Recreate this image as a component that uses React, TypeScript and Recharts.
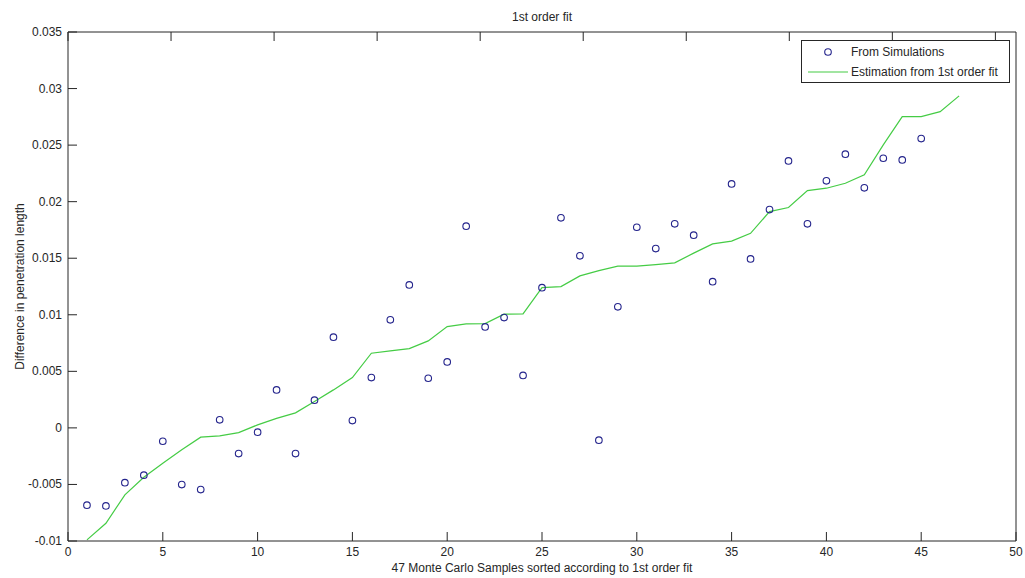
import { ComposedChart, Line, Scatter, XAxis, YAxis, Legend, Label } from 'recharts';

// sample number (sorted by the 1st order fit)
const samples = [
  1, 2, 3, 4, 5, 6, 7, 8, 9, 10, 11, 12, 13, 14, 15, 16, 17, 18, 19, 20, 21, 22, 23, 24,
  25, 26, 27, 28, 29, 30, 31, 32, 33, 34, 35, 36, 37, 38, 39, 40, 41, 42, 43, 44, 45, 46, 47,
];

// difference in penetration length from the simulations (samples 1..45)
const simulated = [
  -0.00683, -0.0069, -0.00484, -0.00418, -0.00118, -0.00501, -0.00545, 0.00071, -0.00227,
  -0.00038, 0.00336, -0.00227, 0.00245, 0.00802, 0.00065, 0.00445, 0.00955, 0.01264,
  0.00439, 0.00583, 0.01783, 0.00893, 0.00975, 0.00464, 0.0124, 0.01857, 0.01521, -0.00109,
  0.0107, 0.01774, 0.01585, 0.01804, 0.01704, 0.01293, 0.02157, 0.01494, 0.0193, 0.0236,
  0.01804, 0.02184, 0.0242, 0.02122, 0.02384, 0.02369, 0.02558,
];

// estimation from the 1st order fit (samples 1..47)
const fitted = [
  -0.0099, -0.00843, -0.00592, -0.00436, -0.00312, -0.00194, -0.00082, -0.00071, -0.00042,
  0.00027, 0.00084, 0.00133, 0.00233, 0.00336, 0.00445, 0.0066, 0.00681, 0.00701, 0.00769,
  0.00896, 0.00919, 0.00922, 0.01005, 0.01008, 0.0124, 0.01249, 0.01344, 0.01391, 0.0143,
  0.0143, 0.01444, 0.01459, 0.01545, 0.01627, 0.01651, 0.0172, 0.01912, 0.01948, 0.02098,
  0.02119, 0.02163, 0.02237, 0.02502, 0.02752, 0.02752, 0.02796, 0.02935,
];

const xTicks = [0, 5, 10, 15, 20, 25, 30, 35, 40, 45, 50];
const yTicks = [-0.01, -0.005, 0, 0.005, 0.01, 0.015, 0.02, 0.025, 0.03, 0.035];

const simRows = simulated.map((v, i) => ({ x: samples[i], sim: v }));
const fitRows = fitted.map((v, i) => ({ x: samples[i], fit: v }));

const INK = '#262626';
const BLUE = '#24248c';
const GREEN = '#45cc45';
const TICK = 9;
const FONT = 12;

// matlab-style ticks: marks point into the axes box
function BottomTick({ x, y, payload }: any) {
  return (
    <g>
      <line x1={x} y1={y} x2={x} y2={y - TICK} stroke={INK} />
      <text x={x} y={y + 15} textAnchor="middle" fill={INK} fontSize={FONT}>
        {payload.value}
      </text>
    </g>
  );
}

function TopTick({ x, y }: any) {
  return <line x1={x} y1={y} x2={x} y2={y + TICK} stroke={INK} />;
}

function LeftTick({ x, y, payload }: any) {
  return (
    <g>
      <line x1={x} y1={y} x2={x + TICK} y2={y} stroke={INK} />
      <text x={x - 6} y={y + 4} textAnchor="end" fill={INK} fontSize={FONT}>
        {String(Number(payload.value.toFixed(3)))}
      </text>
    </g>
  );
}

function RightTick({ x, y }: any) {
  return <line x1={x} y1={y} x2={x - TICK} y2={y} stroke={INK} />;
}

function OpenCircle({ cx, cy }: any) {
  return <circle cx={cx} cy={cy} r={3.3} fill="none" stroke={BLUE} strokeWidth={1.1} />;
}

function FitLegend() {
  const row = { display: 'flex', alignItems: 'center', height: 20 } as const;
  return (
    <div
      style={{
        border: `1px solid ${INK}`,
        background: '#fff',
        boxSizing: 'border-box',
        width: 209,
        height: 43,
        padding: '1px 0',
        fontSize: FONT,
        color: INK,
      }}
    >
      <div style={row}>
        <svg width={49} height={20}>
          <circle cx={26} cy={10} r={3.3} fill="none" stroke={BLUE} strokeWidth={1.1} />
        </svg>
        <span>From Simulations</span>
      </div>
      <div style={row}>
        <svg width={49} height={20}>
          <line x1={6} y1={10} x2={46} y2={10} stroke={GREEN} strokeWidth={1.2} />
        </svg>
        <span>Estimation from 1st order fit</span>
      </div>
    </div>
  );
}

export default function App() {
  return (
    <div
      style={{
        position: 'absolute',
        left: 0,
        top: 0,
        width: 1025,
        height: 578,
        background: '#fff',
        fontFamily: '"Liberation Sans", Arial, sans-serif',
      }}
    >
      <ComposedChart width={1025} height={578} data={fitRows} margin={{ top: 31, right: 8, bottom: 0, left: 0 }}>
        <XAxis
          dataKey="x"
          type="number"
          domain={[0, 50]}
          ticks={xTicks}
          interval={0}
          height={37}
          tickSize={0}
          tickMargin={0}
          tickLine={false}
          tick={<BottomTick />}
          axisLine={{ stroke: INK }}
        >
          <Label
            value="47 Monte Carlo Samples sorted according to 1st order fit"
            position="insideBottom"
            offset={6}
            fill={INK}
            fontSize={FONT}
          />
        </XAxis>
        {/* top and right axes close the box */}
        <XAxis
          xAxisId="top"
          orientation="top"
          type="number"
          domain={[0, 50]}
          ticks={xTicks}
          interval={0}
          height={1}
          tickSize={0}
          tickMargin={0}
          tickLine={false}
          tick={<TopTick />}
          axisLine={{ stroke: INK }}
        >
          <Label value="1st order fit" position="top" offset={10} fill={INK} fontSize={FONT} />
        </XAxis>
        <YAxis
          type="number"
          domain={[-0.01, 0.035]}
          ticks={yTicks}
          interval={0}
          width={68}
          tickSize={0}
          tickMargin={0}
          tickLine={false}
          tick={<LeftTick />}
          axisLine={{ stroke: INK }}
        >
          <Label
            value="Difference in penetration length"
            angle={-90}
            position="insideLeft"
            offset={20}
            fill={INK}
            fontSize={FONT}
            style={{ textAnchor: 'middle' }}
          />
        </YAxis>
        <YAxis
          yAxisId="right"
          orientation="right"
          type="number"
          domain={[-0.01, 0.035]}
          ticks={yTicks}
          interval={0}
          width={1}
          tickSize={0}
          tickMargin={0}
          tickLine={false}
          tick={<RightTick />}
          axisLine={{ stroke: INK }}
        />
        <Legend
          layout="horizontal"
          verticalAlign="middle"
          align="center"
          content={() => <FitLegend />}
          wrapperStyle={{ left: 801, top: 40, width: 209, height: 43 }}
        />
        <Scatter data={simRows} dataKey="sim" shape={<OpenCircle />} isAnimationActive={false} />
        <Line
          type="linear"
          dataKey="fit"
          stroke={GREEN}
          strokeWidth={1.2}
          dot={false}
          activeDot={false}
          isAnimationActive={false}
        />
      </ComposedChart>
    </div>
  );
}
